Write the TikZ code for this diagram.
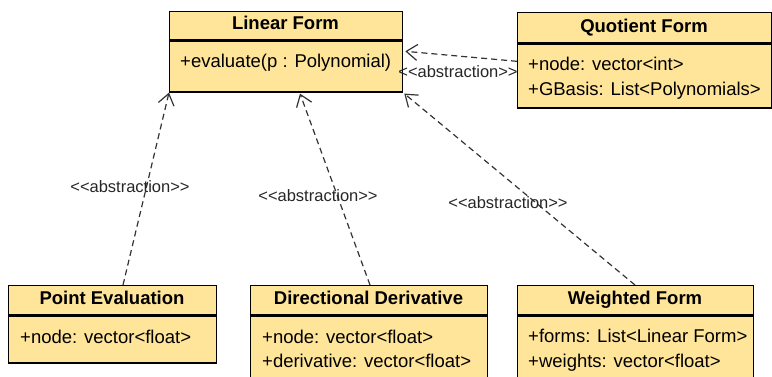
\documentclass[tikz,border=0pt]{standalone}
\usepackage{fontspec}
\setmainfont{Liberation Sans}
\usetikzlibrary{arrows.meta,calc}
\definecolor{classfill}{HTML}{FFE599}
\definecolor{linegray}{HTML}{333333}
\newcommand{\abstr}{{<}{<}abstraction{>}{>}}
\tikzset{
  classbox/.style={draw=black, fill=classfill, line width=1.3pt, inner sep=0pt, anchor=north west},
  hdrtext/.style={anchor=base, inner sep=0pt, text=black, font=\fontsize{18.5}{22}\selectfont\bfseries},
  attrtext/.style={anchor=base west, inner sep=0pt, text=black, font=\fontsize{18.5}{22}\selectfont},
  deplabel/.style={inner sep=0pt, text=black!85, font=\fontsize{16.5}{19}\selectfont},
  dep/.style={draw=linegray, line width=1.2pt, dash pattern=on 6pt off 4pt,
     -{Straight Barb[length=11pt,width=16pt,line width=1.2pt]}}
}
\begin{document}
\begin{tikzpicture}[x=1pt,y=-1pt]
\useasboundingbox (0,0) rectangle (772,376);
\clip (0,0) rectangle (772,376);
% Linear Form
\node[classbox, minimum width=233pt, minimum height=28pt] (lfh) at (169,11) {};
\node[classbox, minimum width=233pt, minimum height=51pt] (lfb) at (lfh.south west) {};
\node[hdrtext] (lft) at (285.5,29) {Linear Form};
\node[attrtext] (lfa) at (180,67) {+evaluate(p : Polynomial)};
% Quotient Form
\node[classbox, minimum width=254pt, minimum height=30pt] (qfh) at (517,12) {};
\node[classbox, minimum width=254pt, minimum height=64pt] (qfb) at (qfh.south west) {};
\node[hdrtext] (qft) at (644,32) {Quotient Form};
\node[attrtext] (qfa) at (528,70) {+node: vector<int>};
\node[attrtext] (qfc) at (528,95) {+GBasis: List<Polynomials>};
% Point Evaluation
\node[classbox, minimum width=208pt, minimum height=29pt] (peh) at (8,285) {};
\node[classbox, minimum width=208pt, minimum height=47pt] (peb) at (peh.south west) {};
\node[hdrtext] (pet) at (112,304) {Point Evaluation};
\node[attrtext] (pea) at (20,343) {+node: vector<float>};
% Directional Derivative
\node[classbox, minimum width=237pt, minimum height=29pt] (ddh) at (250,285) {};
\node[classbox, minimum width=237pt, minimum height=70pt] (ddb) at (ddh.south west) {};
\node[hdrtext] (ddt) at (368.5,304) {Directional Derivative};
\node[attrtext] (dda) at (262,343) {+node: vector<float>};
\node[attrtext] (ddc) at (262,367) {+derivative: vector<float>};
% Weighted Form
\node[classbox, minimum width=236pt, minimum height=29pt] (wfh) at (517,285) {};
\node[classbox, minimum width=236pt, minimum height=70pt] (wfb) at (wfh.south west) {};
\node[hdrtext] (wft) at (635,304) {Weighted Form};
\node[attrtext] (wfa) at (528,342) {+forms: List<Linear Form>};
\node[attrtext] (wfc) at (528,367) {+weights: vector<float>};
% dependencies
\draw[dep] ($(peh.north west)+(115,0)$) -- (lfb.south west);
\draw[dep] ($(ddh.north west)+(120,0)$) -- ($(lfb.south west)+(131,1)$);
\draw[dep] ($(wfh.north west)+(118,0)$) -- ($(lfb.south east)+(1,1)$);
\draw[dep] ($(qfb.north west)+(0,18)$) -- ($(lfb.north east)+(2,11)$);
% labels
\node[deplabel] (l1) at (130,187) {\abstr};
\node[deplabel] (l2) at (318,196) {\abstr};
\node[deplabel] (l3) at (508,203) {\abstr};
\node[deplabel] (l4) at (458,72) {\abstr};
\end{tikzpicture}
\end{document}
